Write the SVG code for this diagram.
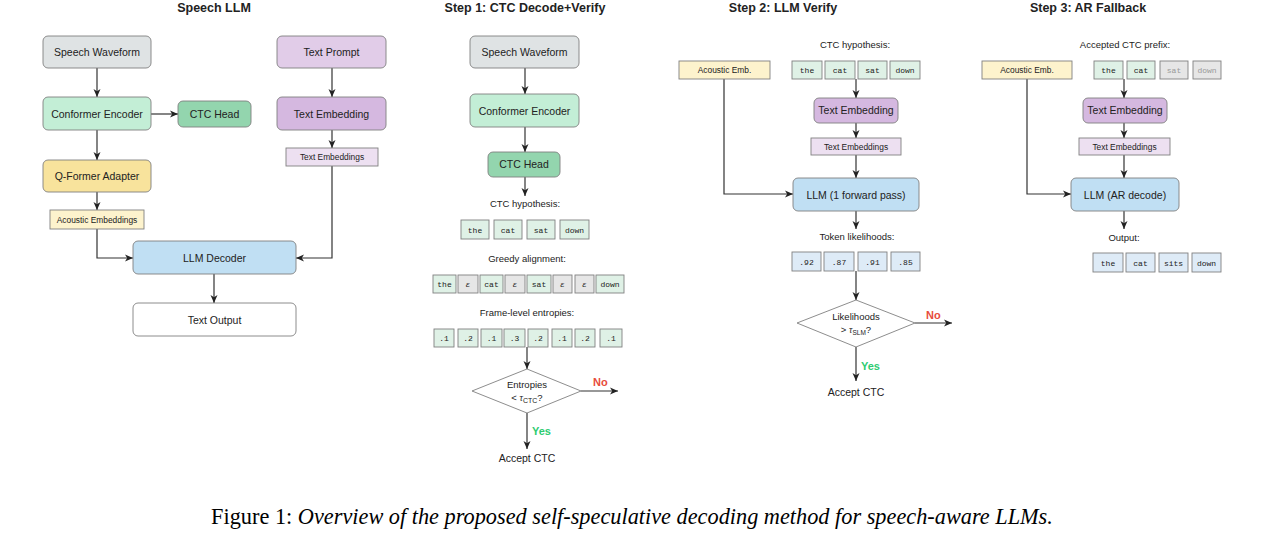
<svg xmlns="http://www.w3.org/2000/svg" width="1265" height="545" viewBox="0 0 1265 545">
<defs>
<marker id="ah" markerWidth="9" markerHeight="8" refX="8" refY="4" orient="auto" markerUnits="userSpaceOnUse">
<path d="M0,0.5 L8,4 L0,7.5 L2.2,4 Z" fill="#222"/>
</marker>
<style>
text{font-family:"Liberation Sans","DejaVu Sans",sans-serif;fill:#222}
.t{font-size:12.5px;font-weight:bold;text-anchor:middle}
.n{font-size:10.5px;text-anchor:middle}
.s{font-size:8.4px;text-anchor:middle}
.l{font-size:9.5px;text-anchor:middle}
.m{font-family:"Liberation Mono","DejaVu Sans Mono",monospace;font-size:8px;text-anchor:middle}
.box{stroke:#808080;stroke-width:0.9}
.tok{stroke:#808080;stroke-width:0.9}
.a{stroke:#333;stroke-width:1.2;fill:none;marker-end:url(#ah)}
.gray{fill:#dfe3e4}.green{fill:#c3eed6}.dgreen{fill:#93d5ae}.lpur{fill:#e1cce8}.pur{fill:#d5b8e0}.spur{fill:#ede0f1}
.yel{fill:#f8e39c}.lyel{fill:#fdf3cd}.blue{fill:#c0dff3}.white{fill:#fff}
.tg{fill:#dff1e6}.te{fill:#e6e6e6}.tb{fill:#deebf7}
.no{font-size:11px;font-weight:bold;fill:#e74c3c}
.yes{font-size:11px;font-weight:bold;fill:#2ecc71}
.dia{fill:#fff;stroke:#808080;stroke-width:0.9}
</style>
</defs>

<!-- Titles -->
<text class="t" x="214" y="12">Speech LLM</text>
<text class="t" x="525" y="12">Step 1: CTC Decode+Verify</text>
<text class="t" x="783" y="12">Step 2: LLM Verify</text>
<text class="t" x="1088" y="12">Step 3: AR Fallback</text>

<!-- Connectors -->
<g id="connectors">
<line class="a" x1="97" y1="68" x2="97" y2="97"/>
<line class="a" x1="151" y1="114" x2="178" y2="114"/>
<line class="a" x1="97" y1="130" x2="97" y2="160"/>
<line class="a" x1="97" y1="192" x2="97" y2="210"/>
<polyline class="a" points="97,229 97,258 133,258"/>
<line class="a" x1="332" y1="68" x2="332" y2="97"/>
<line class="a" x1="332" y1="130" x2="332" y2="148"/>
<polyline class="a" points="332,166 332,258 296,258"/>
<line class="a" x1="214" y1="274" x2="214" y2="303"/>
<line class="a" x1="525" y1="68" x2="525" y2="94"/>
<line class="a" x1="525" y1="127" x2="525" y2="152"/>
<line class="a" x1="525" y1="177" x2="525" y2="196"/>
<line class="a" x1="527" y1="347" x2="527" y2="369"/>
<line class="a" x1="581" y1="391" x2="618" y2="391"/>
<line class="a" x1="527" y1="413" x2="527" y2="449"/>
<line class="a" x1="856" y1="79" x2="856" y2="98"/>
<line class="a" x1="856" y1="123" x2="856" y2="138"/>
<line class="a" x1="856" y1="155" x2="856" y2="178"/>
<polyline class="a" points="724,79 724,194 793,194"/>
<line class="a" x1="856" y1="211" x2="856" y2="229"/>
<line class="a" x1="856" y1="271" x2="856" y2="300"/>
<line class="a" x1="915" y1="323" x2="952" y2="323"/>
<line class="a" x1="856" y1="347" x2="856" y2="381"/>
<line class="a" x1="1124" y1="79" x2="1124" y2="98"/>
<line class="a" x1="1124" y1="123" x2="1124" y2="138"/>
<line class="a" x1="1124" y1="155" x2="1124" y2="178"/>
<polyline class="a" points="1027,79 1027,194 1071,194"/>
<line class="a" x1="1124" y1="211" x2="1124" y2="229"/>
</g>

<!-- Speech LLM nodes -->
<g id="sl-waveform"><rect class="box gray" x="43" y="36" width="108" height="32" rx="5"/><text class="n" x="97" y="56">Speech Waveform</text></g>
<g id="sl-encoder"><rect class="box green" x="43" y="97" width="108" height="33" rx="5"/><text class="n" x="97" y="117.5">Conformer Encoder</text></g>
<g id="sl-ctc"><rect class="box dgreen" x="178" y="101" width="73" height="26" rx="5"/><text class="n" x="214.5" y="117.5">CTC Head</text></g>
<g id="sl-qformer"><rect class="box yel" x="43" y="160" width="108" height="32" rx="5"/><text class="n" x="97" y="180">Q-Former Adapter</text></g>
<g id="sl-acemb"><rect class="box lyel" x="50" y="210" width="94" height="19"/><text class="s" x="97" y="222.5">Acoustic Embeddings</text></g>
<g id="sl-prompt"><rect class="box lpur" x="277" y="36" width="109" height="32" rx="5"/><text class="n" x="331.5" y="56">Text Prompt</text></g>
<g id="sl-textemb"><rect class="box pur" x="277" y="97" width="109" height="33" rx="5"/><text class="n" x="331.5" y="117.5">Text Embedding</text></g>
<g id="sl-textembs"><rect class="box spur" x="286" y="148" width="92" height="18"/><text class="s" x="332" y="160">Text Embeddings</text></g>
<g id="sl-llm"><rect class="box blue" x="133" y="241" width="163" height="33" rx="5"/><text class="n" x="214.5" y="261.5">LLM Decoder</text></g>
<g id="sl-out"><rect class="box white" x="133" y="303" width="163" height="33" rx="5"/><text class="n" x="214.5" y="323.5">Text Output</text></g>

<!-- Step 1 nodes -->
<g id="s1-waveform"><rect class="box gray" x="470" y="36" width="109" height="32" rx="5"/><text class="n" x="524.5" y="56">Speech Waveform</text></g>
<g id="s1-encoder"><rect class="box green" x="470" y="94" width="109" height="33" rx="5"/><text class="n" x="524.5" y="114.5">Conformer Encoder</text></g>
<g id="s1-ctc"><rect class="box dgreen" x="488" y="152" width="72" height="25" rx="5"/><text class="n" x="524" y="168">CTC Head</text></g>
<text class="l" x="525" y="207">CTC hypothesis:</text>
<g id="s1-hyp">
<rect class="tok tg" x="461" y="220" width="28" height="19"/><text class="m" x="475" y="232.5">the</text>
<rect class="tok tg" x="494" y="220" width="28" height="19"/><text class="m" x="508" y="232.5">cat</text>
<rect class="tok tg" x="527" y="220" width="28" height="19"/><text class="m" x="541" y="232.5">sat</text>
<rect class="tok tg" x="560" y="220" width="29" height="19"/><text class="m" x="574.5" y="232.5">down</text>
</g>
<text class="l" x="527" y="262">Greedy alignment:</text>
<g id="s1-align">
<rect class="tok tg" x="433" y="275" width="23" height="18"/><text class="m" x="444.5" y="287">the</text>
<rect class="tok te" x="458" y="275" width="20" height="18"/><text class="m" x="468" y="287" font-style="italic">ε</text>
<rect class="tok tg" x="480" y="275" width="23" height="18"/><text class="m" x="491.5" y="287">cat</text>
<rect class="tok te" x="505" y="275" width="20" height="18"/><text class="m" x="515" y="287" font-style="italic">ε</text>
<rect class="tok tg" x="527" y="275" width="24" height="18"/><text class="m" x="539" y="287">sat</text>
<rect class="tok te" x="553" y="275" width="19" height="18"/><text class="m" x="562.5" y="287" font-style="italic">ε</text>
<rect class="tok te" x="575" y="275" width="19" height="18"/><text class="m" x="584.5" y="287" font-style="italic">ε</text>
<rect class="tok tg" x="596" y="275" width="28" height="18"/><text class="m" x="610" y="287">down</text>
</g>
<text class="l" x="527" y="316">Frame-level entropies:</text>
<g id="s1-ent">
<rect class="tok tg" x="434" y="329" width="20" height="18"/><text class="m" x="444" y="341">.1</text>
<rect class="tok tg" x="458" y="329" width="20" height="18"/><text class="m" x="468" y="341">.2</text>
<rect class="tok tg" x="481" y="329" width="21" height="18"/><text class="m" x="491.5" y="341">.1</text>
<rect class="tok tg" x="504" y="329" width="21" height="18"/><text class="m" x="514.5" y="341">.3</text>
<rect class="tok tg" x="528" y="329" width="20" height="18"/><text class="m" x="538" y="341">.2</text>
<rect class="tok tg" x="552" y="329" width="20" height="18"/><text class="m" x="562" y="341">.1</text>
<rect class="tok tg" x="575" y="329" width="20" height="18"/><text class="m" x="585" y="341">.2</text>
<rect class="tok tg" x="600" y="329" width="22" height="18"/><text class="m" x="611" y="341">.1</text>
</g>
<g id="s1-decision">
<polygon class="dia" points="527,369 581,391 527,413 472,391"/>
<text class="l" x="527" y="388">Entropies</text>
<text class="l" x="527" y="401" fill="#444">&lt; <tspan font-family="Liberation Serif,serif" font-style="italic">τ</tspan><tspan font-size="7" dy="1.5">CTC</tspan><tspan dy="-1.5">?</tspan></text>
</g>
<text class="no" x="593" y="386">No</text>
<text class="yes" x="532" y="435">Yes</text>
<g id="s1-accept"><text class="n" x="527" y="462">Accept CTC</text></g>

<!-- Step 2 nodes -->
<text class="l" x="855" y="48">CTC hypothesis:</text>
<g id="s2-acemb"><rect class="box lyel" x="679" y="61" width="91" height="18"/><text class="s" x="724.5" y="73">Acoustic Emb.</text></g>
<g id="s2-hyp">
<rect class="tok tg" x="792" y="61" width="30" height="18"/><text class="m" x="807" y="73">the</text>
<rect class="tok tg" x="825" y="61" width="30" height="18"/><text class="m" x="840" y="73">cat</text>
<rect class="tok tg" x="858" y="61" width="29" height="18"/><text class="m" x="872.5" y="73">sat</text>
<rect class="tok tg" x="890" y="61" width="30" height="18"/><text class="m" x="905" y="73">down</text>
</g>
<g id="s2-textemb"><rect class="box pur" x="814" y="98" width="84" height="25" rx="5"/><text class="n" x="856" y="114">Text Embedding</text></g>
<g id="s2-textembs"><rect class="box spur" x="811" y="138" width="90" height="17"/><text class="s" x="856" y="149.5">Text Embeddings</text></g>
<g id="s2-llm"><rect class="box blue" x="793" y="178" width="126" height="33" rx="5"/><text class="n" x="856" y="198.5">LLM (1 forward pass)</text></g>
<text class="l" x="857" y="240">Token likelihoods:</text>
<g id="s2-lik">
<rect class="tok tb" x="792" y="252" width="29" height="19"/><text class="m" x="806.5" y="264.5">.92</text>
<rect class="tok tb" x="824" y="252" width="30" height="19"/><text class="m" x="839" y="264.5">.87</text>
<rect class="tok tb" x="858" y="252" width="29" height="19"/><text class="m" x="872.5" y="264.5">.91</text>
<rect class="tok tb" x="891" y="252" width="29" height="19"/><text class="m" x="905.5" y="264.5">.85</text>
</g>
<g id="s2-decision">
<polygon class="dia" points="856,300 915,323 856,347 797,323"/>
<text class="l" x="856" y="320">Likelihoods</text>
<text class="l" x="856" y="333" fill="#444">&gt; <tspan font-family="Liberation Serif,serif" font-style="italic">τ</tspan><tspan font-size="6.5" dy="1.5">SLM</tspan><tspan dy="-1.5">?</tspan></text>
</g>
<text class="no" x="926" y="319">No</text>
<text class="yes" x="861" y="370">Yes</text>
<g id="s2-accept"><text class="n" x="856" y="396">Accept CTC</text></g>

<!-- Step 3 nodes -->
<text class="l" x="1125" y="48">Accepted CTC prefix:</text>
<g id="s3-acemb"><rect class="box lyel" x="982" y="61" width="90" height="18"/><text class="s" x="1027" y="73">Acoustic Emb.</text></g>
<g id="s3-prefix">
<rect class="tok tg" x="1094" y="61" width="29" height="18"/><text class="m" x="1108.5" y="73">the</text>
<rect class="tok tg" x="1127" y="61" width="28" height="18"/><text class="m" x="1141" y="73">cat</text>
<rect class="tok te" x="1160" y="61" width="28" height="18" stroke="#aaa"/><text class="m" x="1174" y="73" style="fill:#999">sat</text>
<rect class="tok te" x="1193" y="61" width="28" height="18" stroke="#aaa"/><text class="m" x="1207" y="73" style="fill:#999">down</text>
</g>
<g id="s3-textemb"><rect class="box pur" x="1083" y="98" width="84" height="25" rx="5"/><text class="n" x="1125" y="114">Text Embedding</text></g>
<g id="s3-textembs"><rect class="box spur" x="1079" y="138" width="91" height="17"/><text class="s" x="1124.5" y="149.5">Text Embeddings</text></g>
<g id="s3-llm"><rect class="box blue" x="1071" y="178" width="108" height="33" rx="5"/><text class="n" x="1125" y="198.5">LLM (AR decode)</text></g>
<text class="l" x="1124" y="241">Output:</text>
<g id="s3-out">
<rect class="tok tb" x="1093" y="253" width="30" height="19"/><text class="m" x="1108" y="265.5">the</text>
<rect class="tok tb" x="1126" y="253" width="29" height="19"/><text class="m" x="1140.5" y="265.5">cat</text>
<rect class="tok tb" x="1159" y="253" width="29" height="19"/><text class="m" x="1173.5" y="265.5">sits</text>
<rect class="tok tb" x="1192" y="253" width="29" height="19"/><text class="m" x="1206.5" y="265.5">down</text>
</g>

<!-- Caption -->
<text x="632" y="524" text-anchor="middle" style="font-family:'Liberation Serif',serif;font-size:22.3px;fill:#000">Figure 1: <tspan font-style="italic">Overview of the proposed self-speculative decoding method for speech-aware LLMs.</tspan></text>
</svg>
